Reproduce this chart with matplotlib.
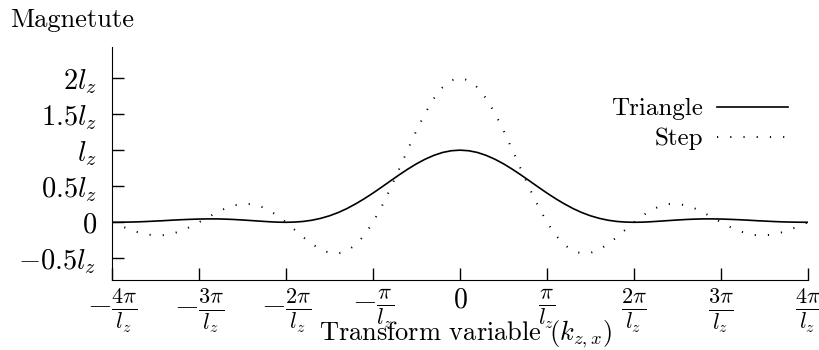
import numpy as np
import matplotlib
matplotlib.use("Agg")
import matplotlib.pyplot as plt

plt.rcParams['font.family'] = ['cmr10', 'DejaVu Serif']
plt.rcParams['mathtext.fontset'] = 'cm'
plt.rcParams['axes.unicode_minus'] = False

# k in units of pi/l_z, values in units of l_z
k_pi = np.round(np.arange(-40, 41) / 10, 1)

triangle = [0.000, 0.001, 0.003, 0.006, 0.011, 0.017, 0.023, 0.030, 0.036, 0.041,
            0.045, 0.047, 0.047, 0.044, 0.039, 0.032, 0.024, 0.016, 0.008, 0.002,
            0.000, 0.003, 0.012, 0.029, 0.055, 0.090, 0.135, 0.190, 0.255, 0.327,
            0.405, 0.488, 0.573, 0.657, 0.737, 0.811, 0.875, 0.928, 0.968, 0.992,
            1.000,
            0.992, 0.968, 0.928, 0.875, 0.811, 0.737, 0.657, 0.573, 0.488, 0.405,
            0.327, 0.255, 0.190, 0.135, 0.090, 0.055, 0.029, 0.012, 0.003, 0.000,
            0.002, 0.008, 0.016, 0.024, 0.032, 0.039, 0.044, 0.047, 0.047, 0.045,
            0.041, 0.036, 0.030, 0.023, 0.017, 0.011, 0.006, 0.003, 0.001, 0.000]

step = [0.000, -0.050, -0.098, -0.139, -0.168, -0.182, -0.178, -0.156, -0.117, -0.063,
        0.000, 0.068, 0.134, 0.191, 0.233, 0.255, 0.252, 0.224, 0.170, 0.094,
        0.000, -0.104, -0.208, -0.303, -0.378, -0.424, -0.432, -0.396, -0.312, -0.179,
        0.000, 0.219, 0.468, 0.736, 1.009, 1.273, 1.514, 1.717, 1.871, 1.967,
        2.000,
        1.967, 1.871, 1.717, 1.514, 1.273, 1.009, 0.736, 0.468, 0.219, 0.000,
        -0.179, -0.312, -0.396, -0.432, -0.424, -0.378, -0.303, -0.208, -0.104, 0.000,
        0.094, 0.170, 0.224, 0.252, 0.255, 0.233, 0.191, 0.134, 0.068, 0.000,
        -0.063, -0.117, -0.156, -0.178, -0.182, -0.168, -0.139, -0.098, -0.050, 0.000]

xticks = [-4, -3, -2, -1, 0, 1, 2, 3, 4]
xtick_labels = [r'$-\frac{4\pi}{l_z}$', r'$-\frac{3\pi}{l_z}$', r'$-\frac{2\pi}{l_z}$',
                r'$-\frac{\pi}{l_z}$', r'$0$', r'$\frac{\pi}{l_z}$', r'$\frac{2\pi}{l_z}$',
                r'$\frac{3\pi}{l_z}$', r'$\frac{4\pi}{l_z}$']
yticks = [-0.5, 0, 0.5, 1, 1.5, 2]
ytick_labels = [r'$-0.5l_z$', r'$0$', r'$0.5l_z$', r'$l_z$', r'$1.5l_z$', r'$2l_z$']

fig = plt.figure(figsize=(8.2, 3.5), dpi=100)
ax = fig.add_axes([112/820, 0.2, 696/820, 0.6657])

ax.plot(k_pi, triangle, color='black', lw=1.2, label='Triangle')
ax.plot(k_pi, step, color='black', lw=1.4, linestyle=(0, (0.6, 6.2)), label='Step')

ax.set_xlim(-4, 4)
ax.set_ylim(-0.8, 2.43)
ax.spines['top'].set_visible(False)
ax.spines['right'].set_visible(False)
ax.tick_params(direction='in', length=8.5, width=1)
ax.tick_params(axis='y', pad=11)
ax.tick_params(axis='x', pad=5)
ax.set_xticks(xticks)
xlabs = ax.set_xticklabels(xtick_labels, fontsize=23)
xlabs[xticks.index(0)].set_fontsize(20)
ax.set_yticks(yticks)
ax.set_yticklabels(ytick_labels, fontsize=20.5)

leg = ax.legend(loc='upper right', bbox_to_anchor=(788/820, 1 - 98/350),
                bbox_transform=fig.transFigure, frameon=False, markerfirst=False,
                fontsize=18, handlelength=2.85, handletextpad=0.55,
                labelspacing=0.3, borderpad=0, borderaxespad=0)

fig.text(10/820, 1 - 27/350, 'Magnetute', fontsize=19, va='baseline', ha='left')
fig.text(466/820, 10/350, r'Transform variable ($k_{z,x}$)', fontsize=19,
         va='baseline', ha='center')

fig.savefig('out.png', dpi=100)
